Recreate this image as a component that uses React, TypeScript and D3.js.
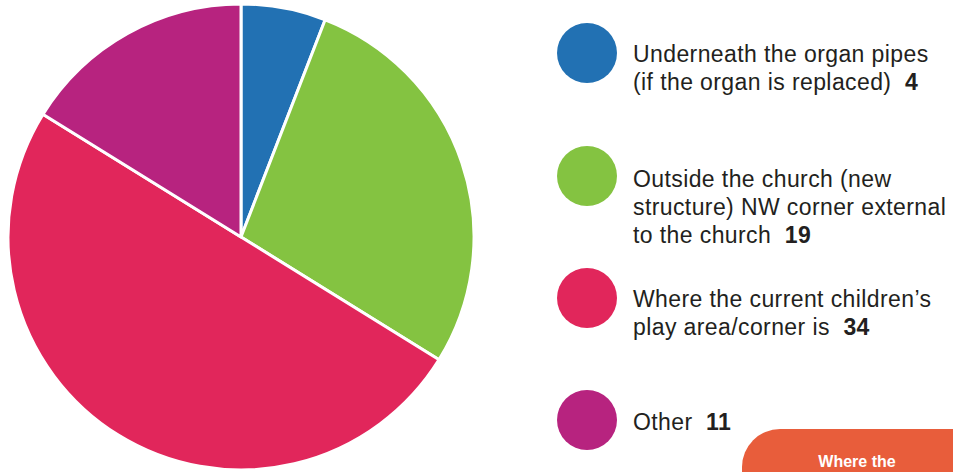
import React from "react";
import * as d3 from "d3";

const categories = [
  ["Underneath the organ pipes", "(if the organ is replaced)"],
  ["Outside the church (new", "structure) NW corner external", "to the church"],
  ["Where the current children’s", "play area/corner is"],
  ["Other"],
];
const values = [4, 19, 34, 11];
const colors = ["#2271B3", "#84C341", "#E1265B", "#B7237F"];
const legendY = [53, 176, 298, 420];
const lineStarts = [61.5, 186.5, 306.5, 430];

export default function App() {
  const W = 953, H = 472;
  const cx = 241, cy = 237, r = 233;
  const pie = d3.pie<number>().sort(null).value((d) => d)(values);
  const arc = d3.arc<d3.PieArcDatum<number>>().innerRadius(0).outerRadius(r);
  const font = "'Liberation Sans', Arial, Helvetica, sans-serif";
  return (
    <svg width={W} height={H} style={{ position: "absolute", left: 0, top: 0, display: "block" }}>
      <rect width={W} height={H} fill="#fff" />
      <g transform={`translate(${cx},${cy})`}>
        {pie.map((p, i) => (
          <path key={i} d={arc(p) || ""} fill={colors[i]} stroke="#fff" strokeWidth={3} strokeLinejoin="round" />
        ))}
      </g>
      {categories.map((lines, i) => (
        <g key={i}>
          <circle cx={587} cy={legendY[i]} r={30} fill={colors[i]} />
          <text x={633} y={lineStarts[i]} fontFamily={font} fontSize={23} letterSpacing={0.4} fill="#231F20">
            {lines.map((l, j) => (
              <tspan key={j} x={633} dy={j === 0 ? 0 : 28}>
                {l}
                {j === lines.length - 1 ? (
                  <tspan fontWeight="bold">{"\u00a0\u00a0" + values[i]}</tspan>
                ) : null}
              </tspan>
            ))}
          </text>
        </g>
      ))}
      <rect x={742} y={429} width={260} height={120} rx={38} ry={38} fill="#E85D3B" />
      <text x={857} y={467} textAnchor="middle" fontFamily={font} fontSize={16} fontWeight="bold" fill="#fff">
        Where the
      </text>
    </svg>
  );
}
